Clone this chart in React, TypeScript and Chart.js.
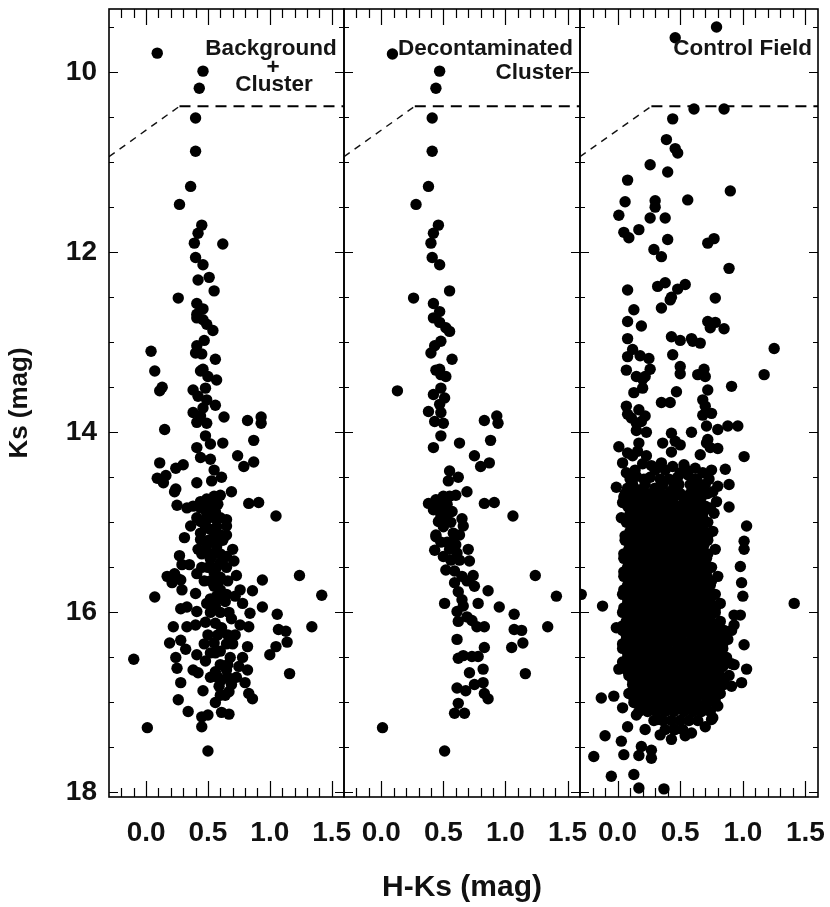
import React, { useEffect, useRef } from "react";
import { Chart, registerables } from "chart.js";

Chart.register(...registerables);

// ---------- data ----------
const xTickValues = [0, 0.5, 1.0, 1.5];
const xTickLabels = ["0.0", "0.5", "1.0", "1.5"];
const yTickValues = [10, 12, 14, 16, 18];
const yTickLabels = ["10", "12", "14", "16", "18"];
const xTitle = "H-Ks (mag)";
const yTitle = "Ks (mag)";
const panelLabels = [["Background", "+", "Cluster"], ["Decontaminated", "Cluster"], ["Control Field"]];
// completeness limit (H-Ks, Ks)
const limitLine = [[-0.3, 10.94], [0.27, 10.38], [1.6, 10.38]];

// Panel 1: Background + Cluster  [H-Ks, Ks]
const bgClusterStars = [
  [0.09, 9.79], [0.46, 9.99], [0.43, 10.18], [0.40, 10.51], [0.40, 10.88], [0.36, 11.27], [0.27, 11.47],
  [0.45, 11.70], [0.42, 11.79], [0.39, 11.90], [0.62, 11.91], [0.40, 12.06], [0.46, 12.14], [0.42, 12.31],
  [0.51, 12.28], [0.55, 12.43], [0.26, 12.51], [0.41, 12.57], [0.46, 12.63], [0.41, 12.69], [0.41, 12.73],
  [0.46, 12.75], [0.49, 12.80], [0.54, 12.87], [0.47, 12.98], [0.04, 13.10], [0.41, 13.04], [0.40, 13.12],
  [0.45, 13.13], [0.56, 13.19], [0.07, 13.32], [0.44, 13.32], [0.46, 13.30], [0.50, 13.38], [0.57, 13.42],
  [0.13, 13.50], [0.11, 13.54], [0.38, 13.53], [0.48, 13.51], [0.42, 13.60], [0.49, 13.64], [0.56, 13.70],
  [0.46, 13.73], [0.38, 13.78], [0.44, 13.82], [0.63, 13.83], [0.82, 13.87], [0.93, 13.83], [0.93, 13.90],
  [0.41, 13.89], [0.49, 13.90], [0.15, 13.97], [0.48, 14.04], [0.52, 14.13], [0.62, 14.12], [0.87, 14.09],
  [0.41, 14.17], [0.44, 14.28], [0.52, 14.30], [0.74, 14.26], [0.79, 14.38], [0.87, 14.33], [0.11, 14.34],
  [0.24, 14.40], [0.30, 14.36], [0.09, 14.51], [0.16, 14.48], [0.14, 14.56], [0.55, 14.42], [0.61, 14.50],
  [0.41, 14.56], [0.53, 14.54], [0.24, 14.63], [0.23, 14.66], [0.69, 14.66], [0.25, 14.81], [0.33, 14.84],
  [0.38, 14.82], [0.44, 14.77], [0.49, 14.74], [0.55, 14.71], [0.60, 14.70], [0.83, 14.79], [0.91, 14.78],
  [0.44, 14.84], [0.52, 14.84], [0.49, 14.90], [0.56, 14.88], [1.05, 14.93], [0.36, 15.04], [0.44, 14.99],
  [0.49, 14.97], [0.65, 14.97], [0.65, 15.04], [0.44, 15.12], [0.52, 15.08], [0.55, 15.16], [0.31, 15.17],
  [0.44, 15.19], [0.60, 15.14], [0.65, 15.14], [0.49, 15.25], [0.57, 15.27], [0.27, 15.37], [0.42, 15.30],
  [0.49, 15.32], [0.70, 15.30], [0.65, 15.38], [0.71, 15.43], [0.29, 15.47], [0.35, 15.47], [0.52, 15.41],
  [0.60, 15.45], [0.17, 15.60], [0.23, 15.57], [0.21, 15.67], [0.28, 15.64], [0.41, 15.57], [0.55, 15.56],
  [0.60, 15.61], [0.73, 15.59], [0.94, 15.64], [1.24, 15.59], [0.07, 15.83], [0.29, 15.75], [0.40, 15.79],
  [0.55, 15.71], [0.65, 15.80], [0.76, 15.75], [0.86, 15.76], [1.42, 15.81], [0.57, 15.82], [0.25, 15.62],
  [0.56, 15.58], [0.59, 15.65], [0.60, 15.75], [0.78, 15.90], [0.94, 15.94], [1.06, 16.02], [1.34, 16.16],
  [0.28, 15.96], [0.33, 15.94], [0.41, 15.99], [0.49, 15.90], [0.56, 15.93], [0.64, 15.88], [0.72, 15.82],
  [0.84, 16.01], [0.22, 16.16], [0.33, 16.16], [0.40, 16.14], [0.48, 16.11], [0.56, 16.12], [0.61, 16.17],
  [0.69, 16.07], [0.76, 16.14], [0.83, 16.16], [1.07, 16.19], [1.13, 16.21], [1.14, 16.33], [1.05, 16.38],
  [1.00, 16.47], [1.16, 16.68], [-0.10, 16.52], [0.19, 16.34], [0.28, 16.31], [0.32, 16.41], [0.24, 16.50],
  [0.25, 16.62], [0.41, 16.47], [0.55, 16.34], [0.60, 16.43], [0.68, 16.50], [0.78, 16.50], [0.82, 16.38],
  [0.48, 16.54], [0.38, 16.64], [0.42, 16.67], [0.56, 16.66], [0.65, 16.64], [0.75, 16.60], [0.82, 16.64],
  [0.28, 16.78], [0.61, 16.75], [0.69, 16.80], [0.80, 16.78], [0.59, 16.82], [0.46, 16.87], [0.67, 16.88],
  [0.83, 16.90], [0.86, 16.96], [0.26, 16.97], [0.56, 17.00], [0.34, 17.10], [0.61, 17.11], [0.67, 17.13],
  [0.45, 17.16], [0.50, 17.14], [0.45, 17.27], [0.01, 17.28], [0.50, 17.54],
];
// dense core of panel 1: [Ks, H-Ks...]
const bgClusterCore = [
  [14.80, 0.47, 0.53, 0.58], [14.95, 0.41, 0.55, 0.60], [15.05, 0.48, 0.57], [15.20, 0.50, 0.55, 0.62],
  [15.35, 0.45, 0.55, 0.60], [15.50, 0.45, 0.50, 0.57, 0.65], [15.65, 0.47, 0.52, 0.66], [15.85, 0.52, 0.58],
  [16.00, 0.52, 0.60, 0.67], [16.25, 0.50, 0.58, 0.66, 0.72], [16.35, 0.47, 0.65, 0.70], [16.45, 0.52, 0.56],
  [16.58, 0.60, 0.66], [16.72, 0.52, 0.58, 0.66, 0.73], [16.92, 0.60, 0.64],
];

// Panel 2: Decontaminated Cluster
const decontStars = [
  [0.09, 9.80], [0.47, 9.99], [0.44, 10.18], [0.41, 10.51], [0.41, 10.88], [0.38, 11.27], [0.28, 11.47],
  [0.46, 11.70], [0.42, 11.79], [0.40, 11.90], [0.41, 12.06], [0.47, 12.14], [0.55, 12.43], [0.26, 12.51],
  [0.42, 12.57], [0.47, 12.66], [0.42, 12.73], [0.47, 12.78], [0.52, 12.84], [0.55, 12.88], [0.48, 12.99],
  [0.43, 13.04], [0.40, 13.12], [0.57, 13.19], [0.44, 13.31], [0.47, 13.30], [0.48, 13.36], [0.52, 13.38],
  [0.13, 13.54], [0.48, 13.51], [0.42, 13.58], [0.51, 13.62], [0.47, 13.69], [0.38, 13.77], [0.48, 13.78],
  [0.43, 13.88], [0.50, 13.90], [0.83, 13.87], [0.93, 13.82], [0.94, 13.90], [0.48, 14.04], [0.63, 14.12],
  [0.88, 14.09], [0.42, 14.17], [0.75, 14.26], [0.80, 14.38], [0.87, 14.34], [0.55, 14.43], [0.62, 14.50],
  [0.54, 14.54], [0.69, 14.66], [0.38, 14.79], [0.44, 14.75], [0.50, 14.71], [0.55, 14.71], [0.60, 14.70],
  [0.83, 14.79], [0.91, 14.78], [0.42, 14.86], [0.50, 14.86], [0.57, 14.88], [1.06, 14.93], [0.46, 14.99],
  [0.52, 14.95], [0.65, 14.96], [0.66, 15.04], [0.44, 15.14], [0.58, 15.12], [0.63, 15.14], [0.44, 15.16],
  [0.43, 15.31], [0.50, 15.38], [0.55, 15.30], [0.61, 15.34], [0.70, 15.30], [0.71, 15.43], [0.52, 15.53],
  [0.59, 15.54], [0.65, 15.60], [0.74, 15.59], [1.24, 15.59], [0.59, 15.67], [0.69, 15.65], [0.75, 15.71],
  [0.86, 15.76], [0.62, 15.77], [1.41, 15.82], [0.51, 15.90], [0.65, 15.86], [0.78, 15.90], [0.95, 15.94],
  [0.61, 15.99], [0.66, 15.93], [1.07, 16.02], [0.69, 16.05], [0.62, 16.10], [0.73, 16.09], [0.77, 16.16],
  [0.83, 16.16], [1.07, 16.19], [1.13, 16.20], [1.34, 16.16], [0.61, 16.30], [1.14, 16.34], [0.83, 16.39],
  [1.05, 16.39], [0.62, 16.51], [0.66, 16.48], [0.73, 16.49], [0.78, 16.49], [0.71, 16.67], [0.82, 16.63],
  [1.16, 16.68], [0.61, 16.84], [0.68, 16.87], [0.75, 16.80], [0.82, 16.78], [0.83, 16.90], [0.86, 16.96],
  [0.62, 17.01], [0.59, 17.12], [0.67, 17.12], [0.01, 17.28], [0.51, 17.54],
];
const decontCore = [
  [14.80, 0.47, 0.53], [14.93, 0.48], [15.00, 0.56], [15.05, 0.50], [15.22, 0.48, 0.53, 0.58],
  [15.25, 0.60], [15.42, 0.56, 0.63],
];

// Panel 3: Control Field
const controlStars = [
  [0.79, 9.50], [0.46, 9.62], [0.61, 10.41], [0.85, 10.41], [0.44, 10.52], [0.39, 10.75], [0.46, 10.85],
  [0.48, 10.90], [0.26, 11.03], [0.40, 11.11], [0.08, 11.20], [0.90, 11.32], [0.06, 11.44], [0.30, 11.43],
  [0.30, 11.50], [0.56, 11.42], [0.01, 11.59], [0.26, 11.62], [0.38, 11.62], [0.05, 11.78], [0.09, 11.84],
  [0.17, 11.75], [0.40, 11.86], [0.72, 11.90], [0.77, 11.85], [0.29, 11.97], [0.35, 12.05], [0.89, 12.18],
  [0.08, 12.42], [0.32, 12.38], [0.38, 12.34], [0.48, 12.41], [0.54, 12.36], [0.43, 12.50], [0.78, 12.51],
  [0.42, 12.53], [0.35, 12.62], [0.13, 12.64], [0.08, 12.77], [0.19, 12.82], [0.72, 12.77], [0.78, 12.78],
  [0.74, 12.84], [0.85, 12.85], [0.08, 12.96], [0.43, 12.94], [0.50, 12.98], [0.59, 12.96], [0.66, 13.01],
  [1.25, 13.07], [0.12, 13.08], [0.18, 13.15], [0.25, 13.18], [0.08, 13.16], [0.44, 13.14], [0.60, 12.99],
  [0.07, 13.31], [0.26, 13.30], [0.50, 13.27], [0.50, 13.35], [0.69, 13.30], [0.64, 13.36], [0.70, 13.38],
  [1.17, 13.36], [0.15, 13.38], [0.22, 13.38], [0.20, 13.41], [0.20, 13.51], [0.13, 13.56], [0.47, 13.55],
  [0.72, 13.53], [0.91, 13.49], [0.35, 13.67], [0.42, 13.67], [0.68, 13.64], [0.70, 13.71], [0.07, 13.71],
  [0.08, 13.80], [0.17, 13.75], [0.22, 13.82], [0.11, 13.84], [0.19, 13.88], [0.15, 13.90], [0.68, 13.81],
  [0.75, 13.79], [0.71, 13.93], [0.80, 13.97], [0.88, 13.93], [0.96, 13.93], [0.23, 14.00], [0.15, 13.98],
  [0.43, 14.01], [0.59, 14.00], [0.46, 14.10], [0.36, 14.12], [0.72, 14.08], [0.01, 14.16], [0.50, 14.14],
  [0.74, 14.17], [0.80, 14.18], [0.08, 14.23], [0.16, 14.21], [1.01, 14.27], [0.66, 14.25], [0.43, 14.22],
  [0.17, 14.12], [0.71, 14.12], [0.23, 14.26], [0.04, 14.34], [0.12, 14.26], [0.35, 14.34], [0.44, 14.38],
  [0.50, 14.45], [0.56, 14.47], [0.62, 14.40], [0.68, 14.45], [0.86, 14.41], [0.07, 14.45], [0.15, 14.49],
  [0.26, 14.50], [-0.01, 14.61], [0.08, 14.62], [0.17, 14.64], [0.28, 14.67], [0.42, 14.66], [0.47, 14.70],
  [0.55, 14.75], [0.62, 14.62], [0.68, 14.67], [0.76, 14.66], [0.80, 14.60], [0.89, 14.58], [0.04, 14.78],
  [0.15, 14.75], [0.26, 14.77], [0.35, 14.80], [0.74, 14.84], [0.79, 14.77], [0.89, 14.83], [0.03, 14.95],
  [1.03, 15.04], [1.01, 15.21], [1.01, 15.30], [0.98, 15.49], [-0.29, 15.80], [-0.12, 15.93], [1.41, 15.90],
  [0.99, 15.67], [1.00, 15.82], [-0.01, 16.17], [0.93, 16.03], [0.98, 16.03], [0.93, 16.14], [0.91, 16.20],
  [1.01, 16.36], [0.01, 16.63], [0.93, 16.58], [1.03, 16.63], [0.99, 16.78], [-0.13, 16.95], [-0.03, 16.93],
  [0.04, 17.06], [0.15, 17.14], [0.32, 17.19], [0.43, 17.41], [0.59, 17.34], [0.70, 17.27], [0.76, 17.17],
  [0.08, 17.27], [0.22, 17.30], [-0.10, 17.37], [0.03, 17.43], [0.34, 17.36], [0.19, 17.49], [0.27, 17.53],
  [0.05, 17.58], [0.17, 17.59], [0.27, 17.62], [-0.19, 17.60], [-0.05, 17.82], [0.13, 17.80], [0.17, 17.95],
  [0.37, 17.96], [0.91, 16.57], [0.91, 16.82], [0.80, 17.04], [0.75, 17.19], [0.46, 17.30], [0.54, 17.37],
  [0.20, 14.35], [0.27, 14.37], [0.53, 14.36], [0.48, 14.50], [0.60, 14.52], [0.30, 14.62], [0.45, 14.60],
  [0.66, 14.58], [0.05, 14.72], [0.24, 14.70], [0.44, 14.78], [0.53, 14.74], [0.60, 14.78],
];
// dense core of the control field: [Ks, H-Ks...]
const controlCore = [
  [14.42, 0.14, 0.30, 0.38, 0.55, 0.75],
  [14.52, 0.10, 0.21, 0.34, 0.41, 0.63, 0.73],
  [14.58, 0.12, 0.22, 0.36, 0.49, 0.58, 0.70],
  [14.68, 0.06, 0.13, 0.22, 0.35, 0.50, 0.58, 0.72],
  [14.72, 0.10, 0.19, 0.32, 0.40, 0.62, 0.67],
  [14.82, 0.08, 0.12, 0.20, 0.29, 0.42, 0.48, 0.58, 0.65, 0.70],
  [14.90, 0.10, 0.17, 0.24, 0.32, 0.39, 0.46, 0.53, 0.61, 0.68, 0.77],
  [15.00, 0.07, 0.14, 0.21, 0.28, 0.36, 0.43, 0.50, 0.57, 0.64, 0.72],
  [15.10, 0.10, 0.17, 0.25, 0.32, 0.40, 0.47, 0.54, 0.61, 0.69, 0.76],
  [15.20, 0.06, 0.13, 0.21, 0.28, 0.35, 0.43, 0.50, 0.58, 0.65, 0.72],
  [15.30, 0.09, 0.16, 0.24, 0.31, 0.38, 0.46, 0.53, 0.61, 0.68, 0.78],
  [15.40, 0.05, 0.12, 0.20, 0.27, 0.35, 0.42, 0.49, 0.57, 0.64, 0.71],
  [15.50, 0.08, 0.16, 0.23, 0.30, 0.38, 0.45, 0.52, 0.60, 0.67, 0.75],
  [15.60, 0.05, 0.12, 0.19, 0.27, 0.34, 0.41, 0.49, 0.56, 0.63, 0.71, 0.80],
  [15.70, 0.08, 0.15, 0.23, 0.30, 0.37, 0.45, 0.52, 0.59, 0.67, 0.74],
  [15.80, 0.04, 0.11, 0.19, 0.26, 0.33, 0.41, 0.48, 0.56, 0.63, 0.70, 0.78],
  [15.90, 0.08, 0.15, 0.22, 0.30, 0.37, 0.44, 0.52, 0.59, 0.66, 0.74, 0.82],
  [16.00, 0.04, 0.12, 0.19, 0.26, 0.34, 0.41, 0.48, 0.55, 0.63, 0.70, 0.78],
  [16.10, 0.07, 0.15, 0.22, 0.30, 0.37, 0.44, 0.51, 0.59, 0.66, 0.74, 0.82],
  [16.20, 0.04, 0.11, 0.18, 0.26, 0.33, 0.40, 0.48, 0.55, 0.62, 0.70, 0.78, 0.85],
  [16.30, 0.07, 0.15, 0.22, 0.29, 0.37, 0.44, 0.51, 0.59, 0.66, 0.73, 0.81, 0.88],
  [16.40, 0.04, 0.11, 0.18, 0.26, 0.33, 0.40, 0.48, 0.55, 0.62, 0.69, 0.77, 0.84],
  [16.50, 0.08, 0.15, 0.22, 0.29, 0.37, 0.44, 0.51, 0.58, 0.66, 0.73, 0.80, 0.87],
  [16.60, 0.05, 0.12, 0.19, 0.26, 0.33, 0.41, 0.48, 0.55, 0.62, 0.70, 0.77, 0.84],
  [16.70, 0.09, 0.16, 0.23, 0.30, 0.37, 0.45, 0.52, 0.59, 0.66, 0.74, 0.81, 0.89],
  [16.80, 0.12, 0.19, 0.27, 0.34, 0.41, 0.48, 0.56, 0.63, 0.70, 0.77, 0.85],
  [16.90, 0.09, 0.16, 0.23, 0.31, 0.38, 0.45, 0.52, 0.60, 0.67, 0.74, 0.82],
  [17.00, 0.13, 0.20, 0.27, 0.34, 0.42, 0.49, 0.56, 0.63, 0.71, 0.78],
  [17.10, 0.17, 0.24, 0.31, 0.38, 0.45, 0.53, 0.60, 0.67, 0.74],
  [17.20, 0.29, 0.36, 0.43, 0.50, 0.57, 0.64],
  [17.30, 0.38, 0.45, 0.52],
];
// stars between the rows above, where the blob is solid black
const controlCoreFill = [
  [14.85, 0.15, 0.25, 0.36, 0.45, 0.53, 0.62, 0.74],
  [14.95, 0.10, 0.18, 0.25, 0.32, 0.40, 0.47, 0.54, 0.61, 0.68],
  [15.05, 0.11, 0.18, 0.25, 0.32, 0.40, 0.47, 0.54, 0.61, 0.68],
  [15.15, 0.06, 0.14, 0.21, 0.29, 0.36, 0.44, 0.51, 0.58, 0.65, 0.72],
  [15.25, 0.10, 0.17, 0.25, 0.32, 0.39, 0.47, 0.54, 0.61, 0.69],
  [15.35, 0.05, 0.13, 0.20, 0.28, 0.35, 0.42, 0.50, 0.57, 0.65, 0.72],
  [15.45, 0.09, 0.16, 0.24, 0.31, 0.38, 0.46, 0.53, 0.60, 0.68],
  [15.55, 0.05, 0.12, 0.20, 0.27, 0.34, 0.42, 0.49, 0.56, 0.64, 0.71],
  [15.65, 0.09, 0.16, 0.23, 0.31, 0.38, 0.45, 0.53, 0.60, 0.67, 0.75],
  [15.75, 0.05, 0.12, 0.19, 0.27, 0.34, 0.41, 0.49, 0.56, 0.63, 0.71],
  [15.85, 0.08, 0.15, 0.22, 0.30, 0.37, 0.45, 0.52, 0.59, 0.67, 0.74],
  [15.95, 0.05, 0.12, 0.19, 0.26, 0.34, 0.41, 0.48, 0.56, 0.63, 0.70, 0.78],
  [16.05, 0.08, 0.15, 0.23, 0.30, 0.37, 0.45, 0.52, 0.59, 0.66, 0.74],
  [16.15, 0.04, 0.11, 0.19, 0.26, 0.33, 0.41, 0.48, 0.55, 0.62, 0.70, 0.78],
  [16.25, 0.07, 0.15, 0.22, 0.29, 0.37, 0.44, 0.51, 0.59, 0.66, 0.74, 0.81],
  [16.35, 0.04, 0.11, 0.18, 0.26, 0.33, 0.40, 0.48, 0.55, 0.62, 0.70, 0.77, 0.84],
  [16.45, 0.08, 0.15, 0.22, 0.29, 0.37, 0.44, 0.51, 0.59, 0.66, 0.73, 0.81],
  [16.55, 0.04, 0.11, 0.19, 0.26, 0.33, 0.40, 0.48, 0.55, 0.62, 0.70, 0.77, 0.84],
  [16.65, 0.08, 0.15, 0.22, 0.30, 0.37, 0.44, 0.52, 0.59, 0.66, 0.73, 0.81],
  [16.75, 0.12, 0.20, 0.27, 0.34, 0.41, 0.48, 0.56, 0.63, 0.70, 0.78, 0.85],
  [16.85, 0.16, 0.23, 0.30, 0.37, 0.45, 0.52, 0.59, 0.67, 0.74, 0.81],
  [16.95, 0.13, 0.20, 0.27, 0.35, 0.42, 0.49, 0.56, 0.63, 0.71, 0.78],
  [17.05, 0.20, 0.27, 0.35, 0.42, 0.49, 0.56, 0.63, 0.70],
];

// ---------- helpers / styling ----------
const FONT = '"Liberation Sans", Arial, Helvetica, sans-serif';
const X_MIN = -0.3;
const X_MAX = 1.6;
const Y_MIN = 9.3;
const Y_MAX = 18.05;

const pairsToPts = (arr: number[][]) => arr.map(([h, k]) => ({ x: h, y: k }));
const rowsToPts = (rows: number[][]) =>
  rows.flatMap(([k, ...hs]) => hs.map((h) => ({ x: h, y: k })));

const framePlugin = {
  id: "frameTicks",
  afterDraw(chart: any) {
    const { ctx, chartArea: a, scales } = chart;
    const x = scales.x;
    const y = scales.y;
    ctx.save();
    ctx.strokeStyle = "#000";
    ctx.lineWidth = 1.2;
    ctx.beginPath();
    for (let i = -2; i <= 15; i++) {
      const px = Math.round(x.getPixelForValue(i / 10)) + 0.5;
      const len = i % 5 === 0 ? 16 : 9;
      ctx.moveTo(px, a.bottom);
      ctx.lineTo(px, a.bottom - len);
      ctx.moveTo(px, a.top);
      ctx.lineTo(px, a.top + len);
    }
    for (let i = 19; i <= 36; i++) {
      const v = i / 2;
      const py = Math.round(y.getPixelForValue(v)) + 0.5;
      const len = v % 2 === 0 ? 9 : 5;
      ctx.moveTo(a.left, py);
      ctx.lineTo(a.left + len, py);
      ctx.moveTo(a.right, py);
      ctx.lineTo(a.right - len, py);
    }
    ctx.stroke();
    ctx.lineWidth = 1.6;
    ctx.strokeRect(a.left, a.top, a.right - a.left, a.bottom - a.top);
    ctx.restore();
  },
};

// label placement: offset from the chart area's right edge, baseline y
const LABEL_LAYOUT = [
  [{ dx: -73, y: 55, align: "center" }, { dx: -71, y: 74, align: "center" }, { dx: -70, y: 91, align: "center" }],
  [{ dx: -7, y: 55, align: "right" }, { dx: -7, y: 79, align: "right" }],
  [{ dx: -6, y: 55, align: "right" }],
];

const makeLabelPlugin = (panel: number) => ({
  id: "panelLabel" + panel,
  afterDraw(chart: any) {
    const { ctx, chartArea: a } = chart;
    ctx.save();
    ctx.fillStyle = "#151515";
    ctx.font = `bold 22.5px ${FONT}`;
    ctx.textBaseline = "alphabetic";
    panelLabels[panel].forEach((t, j) => {
      const l = LABEL_LAYOUT[panel][j];
      ctx.textAlign = l.align;
      ctx.fillText(t, a.right + l.dx, l.y);
    });
    ctx.restore();
  },
});

const PANELS = [
  { padLeft: 0, padRight: 486, showY: true, showXTitle: false, stars: bgClusterStars, core: bgClusterCore },
  { padLeft: 344, padRight: 250, showY: false, showXTitle: true, stars: decontStars, core: decontCore },
  {
    padLeft: 580, padRight: 12, showY: false, showXTitle: false, stars: controlStars,
    core: controlCore.concat(controlCoreFill),
  },
];

function makeConfig(i: number): any {
  const p = PANELS[i];
  const pts = pairsToPts(p.stars).concat(rowsToPts(p.core));
  return {
    type: "scatter",
    data: {
      datasets: [
        {
          data: pts,
          pointRadius: 5.7,
          pointBackgroundColor: "#000",
          backgroundColor: "#000",
          borderWidth: 0,
          pointBorderWidth: 0,
          clip: 0,
          order: 1,
        },
        {
          data: pairsToPts(limitLine.slice(0, 2)),
          showLine: true,
          pointRadius: 0,
          borderColor: "#111",
          borderWidth: 1.4,
          borderDash: [7, 6],
          clip: 0,
          order: 2,
        },
        {
          data: pairsToPts(limitLine.slice(1)),
          showLine: true,
          pointRadius: 0,
          borderColor: "#000",
          borderWidth: 2.2,
          borderDash: [11, 7],
          clip: 0,
          order: 2,
        },
      ],
    },
    options: {
      responsive: false,
      animation: false,
      devicePixelRatio: 1,
      events: [],
      layout: { padding: { left: p.padLeft, right: p.padRight, top: 9, bottom: 0 } },
      plugins: { legend: { display: false }, tooltip: { enabled: false }, title: { display: false } },
      scales: {
        x: {
          type: "linear",
          min: X_MIN,
          max: X_MAX,
          grid: { display: false, drawTicks: false },
          border: { display: false },
          afterBuildTicks: (s: any) => {
            s.ticks = xTickValues.map((v) => ({ value: v }));
          },
          afterFit: (s: any) => {
            s.height = 110;
            s.paddingLeft = 0;
            s.paddingRight = 0;
            s.paddingTop = 0;
            s.paddingBottom = 0;
          },
          ticks: {
            autoSkip: false,
            maxRotation: 0,
            minRotation: 0,
            padding: 19,
            color: "#111",
            font: { family: FONT, size: 28, weight: "bold" },
            callback: (v: number) => {
              const k = xTickValues.indexOf(v);
              return k >= 0 ? xTickLabels[k] : "";
            },
          },
          title: {
            display: p.showXTitle,
            text: xTitle,
            color: "#111",
            font: { family: FONT, size: 30, weight: "bold" },
            padding: { top: 0, bottom: 1 },
          },
        },
        y: {
          type: "linear",
          reverse: true,
          min: Y_MIN,
          max: Y_MAX,
          display: p.showY,
          grid: { display: false, drawTicks: false },
          border: { display: false },
          afterBuildTicks: (s: any) => {
            s.ticks = yTickValues.map((v) => ({ value: v }));
          },
          afterFit: (s: any) => {
            s.width = p.showY ? 109 : 0;
            s.paddingLeft = 0;
            s.paddingRight = 0;
            s.paddingTop = 0;
            s.paddingBottom = 0;
          },
          ticks: {
            autoSkip: false,
            padding: 12,
            color: "#111",
            font: { family: FONT, size: 28, weight: "bold" },
            callback: (v: number) => {
              const k = yTickValues.indexOf(v);
              return k >= 0 ? yTickLabels[k] : "";
            },
          },
          title: {
            display: p.showY,
            text: yTitle,
            color: "#111",
            font: { family: FONT, size: 26, weight: "bold" },
            padding: { top: 4, bottom: 0 },
          },
        },
      },
    },
    plugins: [framePlugin, makeLabelPlugin(i)],
  };
}

export default function App() {
  const r1 = useRef<HTMLCanvasElement>(null);
  const r2 = useRef<HTMLCanvasElement>(null);
  const r3 = useRef<HTMLCanvasElement>(null);

  useEffect(() => {
    document.body.style.margin = "0";
    const refs = [r1, r2, r3];
    const charts = refs.map((r, i) => new Chart(r.current as HTMLCanvasElement, makeConfig(i)));
    return () => charts.forEach((c) => c.destroy());
  }, []);

  const cs: React.CSSProperties = { position: "absolute", left: 0, top: 0, width: 830, height: 907 };
  return (
    <div style={{ position: "absolute", left: 0, top: 0, width: 830, height: 907, background: "#fff" }}>
      <canvas ref={r1} width={830} height={907} style={cs} />
      <canvas ref={r2} width={830} height={907} style={cs} />
      <canvas ref={r3} width={830} height={907} style={cs} />
    </div>
  );
}
